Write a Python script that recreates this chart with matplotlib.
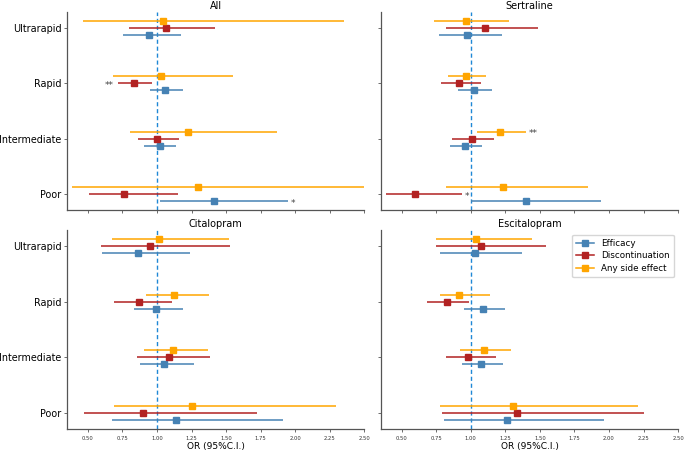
import numpy as np
import matplotlib
matplotlib.use("Agg")
import matplotlib.pyplot as plt
from matplotlib.lines import Line2D

# Metabolizer groups (bottom -> top on the y axis)
groups = ["Poor", "Intermediate", "Rapid", "Ultrarapid"]
panels = ["All", "Sertraline", "Citalopram", "Escitalopram"]
outcomes = ["Efficacy", "Discontinuation", "Any side effect"]
colors = {"Efficacy": "#4682b4", "Discontinuation": "#b22222", "Any side effect": "#ffa500"}
offsets = {"Efficacy": -0.125, "Discontinuation": 0.0, "Any side effect": 0.125}

# OR, lower CI, upper CI  (order: Poor, Intermediate, Rapid, Ultrarapid)
all_eff = [[1.41, 1.02, 1.06, 0.945], [1.024, 0.908, 0.949, 0.757], [1.949, 1.137, 1.186, 1.176]]
all_dis = [[0.764, 0.998, 0.831, 1.063], [0.506, 0.865, 0.718, 0.798], [1.149, 1.157, 0.961, 1.417]]
all_ase = [[1.299, 1.224, 1.029, 1.046], [0.388, 0.802, 0.684, 0.467], [2.62, 1.867, 1.547, 2.354]]

ser_eff = [[1.397, 0.957, 1.022, 0.971], [1.005, 0.848, 0.906, 0.769], [1.941, 1.082, 1.156, 1.224]]
ser_dis = [[0.598, 1.007, 0.918, 1.101], [0.386, 0.868, 0.788, 0.820], [0.937, 1.171, 1.075, 1.486]]
ser_ase = [[1.231, 1.212, 0.964, 0.969], [0.820, 1.048, 0.836, 0.735], [1.850, 1.402, 1.108, 1.274]]

cit_eff = [[1.137, 1.053, 0.993, 0.860], [0.675, 0.877, 0.831, 0.600], [1.911, 1.265, 1.188, 1.241]]
cit_dis = [[0.901, 1.089, 0.870, 0.952], [0.472, 0.858, 0.687, 0.593], [1.720, 1.381, 1.106, 1.530]]
cit_ase = [[1.253, 1.113, 1.123, 1.014], [0.687, 0.908, 0.920, 0.675], [2.296, 1.371, 1.376, 1.520]]

esc_eff = [[1.260, 1.077, 1.089, 1.034], [0.810, 0.940, 0.954, 0.781], [1.964, 1.236, 1.248, 1.368]]
esc_dis = [[1.337, 0.983, 0.827, 1.077], [0.795, 0.824, 0.687, 0.752], [2.251, 1.183, 0.990, 1.544]]
esc_ase = [[1.308, 1.094, 0.918, 1.041], [0.776, 0.925, 0.781, 0.752], [2.208, 1.294, 1.142, 1.443]]

data = {
    "All": [all_eff, all_dis, all_ase],
    "Sertraline": [ser_eff, ser_dis, ser_ase],
    "Citalopram": [cit_eff, cit_dis, cit_ase],
    "Escitalopram": [esc_eff, esc_dis, esc_ase],
}

# significance stars: (panel, outcome, group, text, side)
stars = [
    ("All", "Discontinuation", "Rapid", "**", "left"),
    ("All", "Efficacy", "Poor", "*", "right"),
    ("Sertraline", "Any side effect", "Intermediate", "**", "right"),
    ("Sertraline", "Discontinuation", "Poor", "*", "right"),
]

fig, axes = plt.subplots(2, 2, figsize=(6.85, 4.51), dpi=100, sharex=True, sharey=True)
fig.subplots_adjust(left=0.098, right=0.99, top=0.974, bottom=0.049, wspace=0.055, hspace=0.10)

ypos = np.arange(len(groups))
for ax, name in zip(axes.flat, panels):
    for outcome, vals in zip(outcomes, data[name]):
        orr, lo, hi = [np.array(v) for v in vals]
        y = ypos + offsets[outcome]
        ax.errorbar(orr, y, xerr=[orr - lo, hi - orr], fmt="s", color=colors[outcome],
                    ecolor=colors[outcome], elinewidth=1.1, markersize=3.8, capsize=0,
                    label=outcome)
    ax.axvline(1.0, color="#1f88d6", linestyle="--", linewidth=1.0, dashes=(3, 2), zorder=0)
    ax.set_title(name, fontsize=7, pad=2)
    for sp in ["top", "right"]:
        ax.spines[sp].set_visible(False)
    for sp in ["left", "bottom"]:
        ax.spines[sp].set_color("#555555")
        ax.spines[sp].set_linewidth(0.9)
    ax.tick_params(axis="x", labelsize=3.8, colors="#555555", labelcolor="#333333",
                   length=2, width=0.6, pad=3)
    ax.tick_params(axis="y", labelsize=6.9, colors="#555555", labelcolor="black",
                   length=2.5, width=0.6, pad=1.5)

for name, outcome, grp, txt, side in stars:
    ax = axes.flat[panels.index(name)]
    k = outcomes.index(outcome)
    g = groups.index(grp)
    lo = data[name][k][1][g]
    hi = data[name][k][2][g]
    y = g + offsets[outcome]
    if side == "left":
        ax.annotate(txt, (lo, y), xytext=(-3, -3.2), textcoords="offset points",
                    ha="right", va="baseline", fontsize=6.5, color="#444444")
    else:
        ax.annotate(txt, (hi, y), xytext=(2, -3.2), textcoords="offset points",
                    ha="left", va="baseline", fontsize=6.5, color="#444444")

ax0 = axes[0, 0]
ax0.set_yticks(ypos)
ax0.set_yticklabels(groups)
ax0.set_xlim(0.35, 2.5)
ax0.set_xticks(np.arange(0.5, 2.51, 0.25))
ax0.set_xticklabels([f"{v:.2f}" for v in np.arange(0.5, 2.51, 0.25)])

for ax in axes[1]:
    ax.set_xlabel("OR (95%C.I.)", fontsize=6.5, labelpad=1)

handles = [Line2D([], [], color=colors[o], marker="s", markersize=3.8, linewidth=1.1)
           for o in outcomes]
axes[1, 1].legend(handles, outcomes, loc="upper right", fontsize=6.3, frameon=True,
                  handlelength=2.0, borderpad=0.5, labelspacing=0.4)

fig.savefig("out.png", dpi=100)
